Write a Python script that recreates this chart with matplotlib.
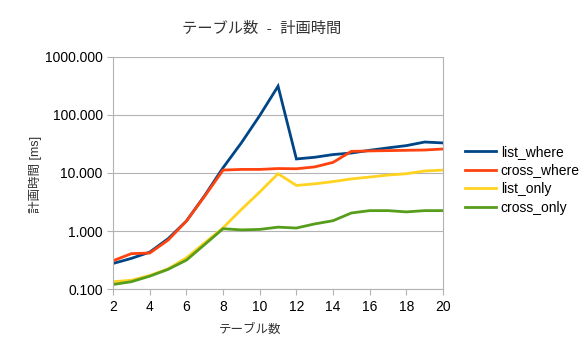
import matplotlib
matplotlib.use("Agg")
import matplotlib.pyplot as plt
from matplotlib.ticker import FormatStrFormatter, FixedLocator

plt.rcParams['font.family'] = ['Liberation Sans', 'Noto Sans CJK JP', 'DejaVu Sans']

# テーブル数
tables = list(range(2, 21))

# 計画時間 [ms]
list_where = [0.278, 0.34, 0.435, 0.74, 1.49, 4.1, 12.3, 33, 97, 310,
              17.4, 18.6, 20.7, 22, 24.5, 27, 29.5, 34, 32.8]
cross_where = [0.31, 0.41, 0.42, 0.70, 1.49, 4.0, 11.2, 11.5, 11.5, 11.9,
               11.8, 12.7, 15.2, 23.5, 23.9, 24.2, 24.5, 24.8, 25.8]
list_only = [0.135, 0.143, 0.173, 0.225, 0.348, 0.63, 1.14, 2.36, 4.7, 9.7,
             6.1, 6.5, 7.1, 7.9, 8.5, 9.2, 9.7, 10.8, 11.2]
cross_only = [0.121, 0.135, 0.168, 0.22, 0.317, 0.59, 1.1, 1.05, 1.07, 1.17,
              1.13, 1.33, 1.51, 2.05, 2.25, 2.25, 2.14, 2.25, 2.25]

series = [
    ("list_where", list_where, "#004586"),
    ("cross_where", cross_where, "#ff420e"),
    ("list_only", list_only, "#ffd320"),
    ("cross_only", cross_only, "#579d1c"),
]

fig = plt.figure(figsize=(5.86, 3.56), dpi=100)
ax = fig.add_axes([0.193, 0.1874, 0.563, 0.6536])

for name, vals, col in series:
    ax.plot(tables, vals, color=col, lw=2.0, label=name, solid_joinstyle='miter')

ax.set_yscale('log')
ax.set_ylim(0.1, 1000)
ax.set_xlim(2, 20)
ax.yaxis.set_major_locator(FixedLocator([0.1, 1, 10, 100, 1000]))
ax.yaxis.set_minor_locator(FixedLocator([]))
ax.yaxis.set_major_formatter(FormatStrFormatter('%.3f'))
ax.set_xticks(range(2, 21, 2))

grey = '#b3b3b3'
ax.grid(axis='y', color=grey, lw=0.8)
ax.set_axisbelow(True)
for side in ['left', 'bottom', 'right']:
    ax.spines[side].set_color(grey)
    ax.spines[side].set_linewidth(0.8)
ax.spines['top'].set_visible(False)
ax.tick_params(axis='both', color=grey, length=4, width=0.8, labelsize=10,
               labelcolor='#000000')

fig.text(0.447, 0.92, "テーブル数  -  計画時間", ha='center', va='center',
         fontsize=11, color='#333333')
fig.text(0.427, 0.073, "テーブル数", ha='center', va='center', fontsize=9,
         color='#333333')
fig.text(0.06, 0.51, "計画時間 [ms]", ha='center', va='center', fontsize=9,
         color='#333333', rotation=90)

ax.legend(loc='center left', bbox_to_anchor=(1.03, 0.47), frameon=False,
          fontsize=10, handlelength=2.2, handletextpad=0.35, labelspacing=0.35)

fig.savefig("out.png", dpi=100)
